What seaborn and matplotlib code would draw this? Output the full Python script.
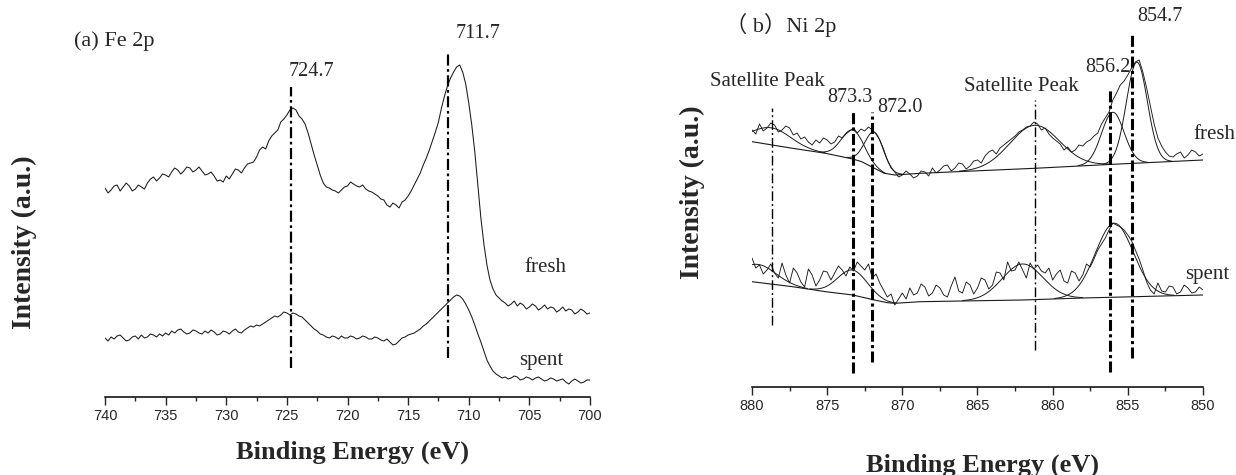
import numpy as np
import pandas as pd
import matplotlib
matplotlib.use("Agg")
import matplotlib.pyplot as plt
from matplotlib.ticker import MultipleLocator
import seaborn as sns

# ---------------------------------------------------------------- Fe 2p data
fe_energy = np.arange(740.0, 699.9, -0.25)          # binding energy grid, eV
fe_fresh = [212, 207, 210, 214, 215, 209, 213, 217, 214, 209,
            211, 215, 213, 211, 217, 221, 223, 219, 222, 226,
            225, 223, 228, 232, 230, 226, 229, 233, 232, 228,
            230, 233, 229, 225, 226, 228, 224, 219, 220, 218,
            224, 221, 226, 231, 230, 227, 232, 236, 237, 238,
            243, 250, 253, 251, 259, 264, 267, 270, 278, 281,
            285, 290, 292, 290, 284, 281, 276, 267, 256, 245,
            235, 225, 217, 213, 212, 210, 209, 207, 210, 213,
            214, 218, 216, 214, 213, 215, 211, 209, 208, 206,
            204, 201, 200, 195, 193, 197, 195, 192, 198, 200,
            204, 209, 215, 221, 227, 235, 242, 250, 259, 268,
            278, 292, 304, 314, 322, 328, 333, 335, 328, 316,
            297, 275, 248, 215, 182, 156, 135, 120, 111, 105,
            102, 99, 97, 94, 96, 99, 94, 97, 95, 91,
            93, 96, 94, 90, 92, 95, 91, 93, 92, 88,
            90, 93, 89, 91, 90, 86, 88, 91, 89, 86,
            87]
fe_spent = [62, 59, 63, 61, 64, 65, 62, 59, 60, 63,
            64, 61, 65, 62, 63, 66, 65, 63, 66, 64,
            67, 65, 69, 67, 70, 71, 68, 66, 67, 70,
            69, 67, 66, 69, 67, 70, 68, 65, 66, 69,
            68, 66, 69, 71, 68, 67, 70, 72, 74, 73,
            75, 74, 76, 78, 80, 82, 84, 83, 85, 88,
            87, 85, 87, 86, 84, 83, 80, 77, 74, 71,
            69, 66, 65, 63, 62, 64, 63, 61, 64, 62,
            62, 64, 63, 61, 62, 64, 63, 61, 61, 63,
            62, 60, 59, 61, 58, 55, 56, 59, 62, 63,
            65, 66, 67, 69, 71, 74, 76, 79, 82, 85,
            88, 91, 94, 97, 100, 103, 105, 104, 101, 96,
            90, 83, 75, 66, 58, 49, 40, 34, 29, 26,
            24, 22, 23, 21, 22, 24, 23, 20, 21, 23,
            22, 20, 22, 23, 21, 19, 20, 22, 21, 19,
            20, 21, 18, 16, 19, 21, 19, 17, 18, 20,
            20]
fe_peaks = [724.7, 711.7]

# ---------------------------------------------------------------- Ni 2p data
ni_energy = np.arange(880.0, 849.9, -0.25)
ni_fresh = [260, 256, 266, 259, 262, 267, 265, 258, 260, 264,
            262, 255, 257, 251, 253, 248, 245, 250, 247, 252,
            250, 246, 248, 254, 252, 256, 259, 262, 257, 261,
            259, 263, 260, 256, 250, 241, 230, 222, 218, 213,
            215, 219, 216, 212, 214, 219, 218, 214, 222, 217,
            220, 224, 225, 219, 222, 227, 226, 221, 224, 229,
            230, 227, 234, 238, 240, 236, 242, 245, 248, 251,
            254, 258, 260, 263, 264, 268, 266, 260, 262, 256,
            252, 249, 246, 240, 243, 238, 240, 245, 244, 248,
            250, 254, 257, 266, 272, 278, 290, 297, 305, 309,
            315, 322, 328, 330, 318, 302, 284, 266, 252, 244,
            238, 234, 233, 236, 238, 232, 235, 240, 238, 234,
            236]
ni_spent = [132, 122, 125, 116, 120, 126, 117, 112, 127, 115,
            107, 122, 117, 108, 103, 121, 115, 104, 110, 119,
            118, 110, 117, 124, 120, 114, 123, 119, 128, 124,
            120, 126, 112, 116, 107, 100, 93, 96, 85, 91,
            97, 91, 102, 95, 97, 106, 103, 94, 97, 105,
            102, 95, 93, 104, 113, 99, 97, 108, 105, 96,
            102, 112, 110, 101, 105, 118, 117, 110, 128, 119,
            120, 128, 120, 112, 127, 121, 125, 119, 117, 122,
            110, 116, 120, 109, 107, 119, 117, 109, 115, 126,
            123, 131, 140, 146, 152, 160, 167, 165, 163, 160,
            155, 149, 140, 131, 120, 108, 100, 96, 107, 99,
            98, 104, 103, 96, 98, 105, 102, 97, 98, 103,
            100]

# Shirley-type backgrounds (knots)
ni_fresh_bg_e = [880.0, 877.3, 875.1, 873.3, 872.7, 871.85, 871.2, 870.5, 868.8, 861.2, 856.0, 850.0]
ni_fresh_bg = [248.3, 241.7, 236.7, 231.0, 228.3, 221.7, 216.7, 215.0, 216.7, 221.7, 225.7, 230.0]
ni_spent_bg_e = [880.0, 877.3, 875.1, 873.3, 871.85, 871.0, 870.5, 868.8, 862.0, 858.0, 850.0]
ni_spent_bg = [108.3, 103.3, 98.3, 95.0, 90.0, 87.3, 86.7, 88.3, 90.0, 92.0, 95.0]

# fitted Gaussian components: centre (eV), height above background, sigma (eV)
ni_fresh_centres = [878.7, 873.3, 871.85, 861.2, 856.0, 854.4]
ni_fresh_heights = [17, 29, 36, 43, 52, 101]
ni_fresh_sigmas = [1.3, 0.75, 0.62, 1.65, 0.75, 0.7]
ni_spent_centres = [879.6, 873.3, 862.0, 855.9]
ni_spent_heights = [18, 25, 36, 74]
ni_spent_sigmas = [1.2, 1.0, 1.35, 1.25]

ni_peaks = [873.3, 872.0, 856.2, 854.7]
ni_satellites = [878.7, 861.2]

# ---------------------------------------------------------------- style
sns.set_style("white")
plt.rcParams["font.family"] = ["Liberation Serif", "Noto Sans CJK SC"]
plt.rcParams["axes.linewidth"] = 1.1

W, H = 1236, 475
fig = plt.figure(figsize=(W / 100, H / 100), dpi=100)


def axes_box(left, top, right, bottom):
    return [left / W, 1 - bottom / H, (right - left) / W, (bottom - top) / H]


ax_fe = fig.add_axes(axes_box(105, 20, 590, 397))
ax_ni = fig.add_axes(axes_box(752, 20, 1203, 386.7))

line_kw = dict(color="#1a1a1a", linewidth=0.75, estimator=None, sort=False, errorbar=None)


def trace(ax, x, y, **kw):
    df = pd.DataFrame({"energy": x, "intensity": y})
    opts = dict(line_kw)
    opts.update(kw)
    sns.lineplot(data=df, x="energy", y="intensity", ax=ax, legend=False, **opts)


def style_axis(ax, lo, hi):
    ax.set_xlim(lo, hi)
    for s in ("left", "right", "top"):
        ax.spines[s].set_visible(False)
    ax.spines["bottom"].set_color("black")
    ax.set_yticks([])
    ax.set_ylabel("")
    ax.xaxis.set_major_locator(MultipleLocator(5))
    ax.xaxis.set_minor_locator(MultipleLocator(2.5))
    ax.tick_params(axis="x", which="major", direction="out", length=5.8, width=1.0,
                   bottom=True, pad=3, labelsize=10.5, labelfontfamily="Liberation Sans")
    ax.tick_params(axis="x", which="minor", direction="out", length=3, width=1.0, bottom=True)
    ax.set_facecolor("none")


def vline(ax, x, y0, y1, lw, pattern):
    ax.plot([x, x], [y0, y1], color="black", linewidth=lw, linestyle=(0, pattern),
            solid_capstyle="butt", dash_capstyle="butt")


# ---------------------------------------------------------------- (a) Fe 2p
trace(ax_fe, fe_energy, fe_fresh)
trace(ax_fe, fe_energy, fe_spent)
style_axis(ax_fe, 740, 700)
ax_fe.set_ylim(3, 380)

fe_line_span = [(313, 32), (347, 42.5)]
fe_label_pos = [(722.96, 328.3), (709.27, 367)]
for e, (ytop, ybot), (tx, ty) in zip(fe_peaks, fe_line_span, fe_label_pos):
    vline(ax_fe, e, ybot, ytop, 1.6, (5, 1.6, 1.2, 1.6))
    ax_fe.text(tx, ty, f"{e:.1f}", ha="center", va="center", fontsize=14.5)

ax_fe.text(703.7, 132, "fresh", ha="center", va="center", fontsize=15)
ax_fe.text(704.0, 40, "spent", ha="center", va="center", fontsize=15)
fig.text(74 / W, 1 - 40.7 / H, "(a) Fe 2p", ha="left", va="center", fontsize=16)

ax_fe.set_xlabel("Binding Energy (eV)", fontsize=19, fontweight="bold", va="center")
ax_fe.xaxis.set_label_coords((352 - 105) / 485, (397 - 452) / 377)
fig.text(24 / W, 1 - 242 / H, "Intensity (a.u.)", rotation=90, ha="center", va="center",
         fontsize=20, fontweight="bold")

# ---------------------------------------------------------------- (b) Ni 2p
fine = np.linspace(880.0, 850.0, 601)


def draw_fit(ax, bg_e, bg_i, centres, heights, sigmas):
    bg = np.interp(fine, bg_e[::-1], bg_i[::-1])
    trace(ax, bg_e, bg_i, linewidth=0.8)
    for c, h, s in zip(centres, heights, sigmas):
        comp = h * np.exp(-0.5 * ((fine - c) / s) ** 2)
        mask = comp > 0.4
        trace(ax, fine[mask], (bg + comp)[mask], linewidth=0.7)


trace(ax_ni, ni_energy, ni_fresh, linewidth=0.65)
trace(ax_ni, ni_energy, ni_spent, linewidth=0.65)
draw_fit(ax_ni, ni_fresh_bg_e, ni_fresh_bg, ni_fresh_centres, ni_fresh_heights, ni_fresh_sigmas)
draw_fit(ax_ni, ni_spent_bg_e, ni_spent_bg, ni_spent_centres, ni_spent_heights, ni_spent_sigmas)
style_axis(ax_ni, 880, 850)
ax_ni.set_ylim(3.3, 370)

ni_line_span = [(278.3, 16.7), (278.3, 28.3), (302, 18.3), (357, 32)]
ni_label_pos = [(873.5, 292), (870.16, 282), (856.33, 322), (852.87, 373)]
for e, (ytop, ybot), (tx, ty) in zip(ni_peaks, ni_line_span, ni_label_pos):
    vline(ax_ni, e, ybot, ytop, 2.2, (3.6, 1.1, 1.0, 1.1))
    ax_ni.text(tx, ty, f"{e:.1f}", ha="center", va="center", fontsize=14.5)

sat_span = [(281.7, 65), (290, 40)]
sat_label_pos = [(879.0, 308.3), (862.07, 303.3)]
for e, (ytop, ybot), (tx, ty) in zip(ni_satellites, sat_span, sat_label_pos):
    vline(ax_ni, e, ybot, ytop, 1.0, (7, 2.2, 1.4, 2.2))
    ax_ni.text(tx, ty, "Satellite Peak", ha="center", va="center", fontsize=15)

ax_ni.text(849.25, 255, "fresh", ha="center", va="center", fontsize=15)
ax_ni.text(849.75, 115, "spent", ha="center", va="center", fontsize=15)
fig.text(725 / W, 1 - 25 / H, "（ b）Ni 2p", ha="left", va="center", fontsize=16)

ax_ni.set_xlabel("Binding Energy (eV)", fontsize=19, fontweight="bold", va="center")
ax_ni.xaxis.set_label_coords((982 - 752) / 451, (386.7 - 465) / 366.7)
fig.text(692 / W, 1 - 192 / H, "Intensity (a.u.)", rotation=90, ha="center", va="center",
         fontsize=20, fontweight="bold")

fig.savefig("out.png", dpi=100, facecolor="white")
